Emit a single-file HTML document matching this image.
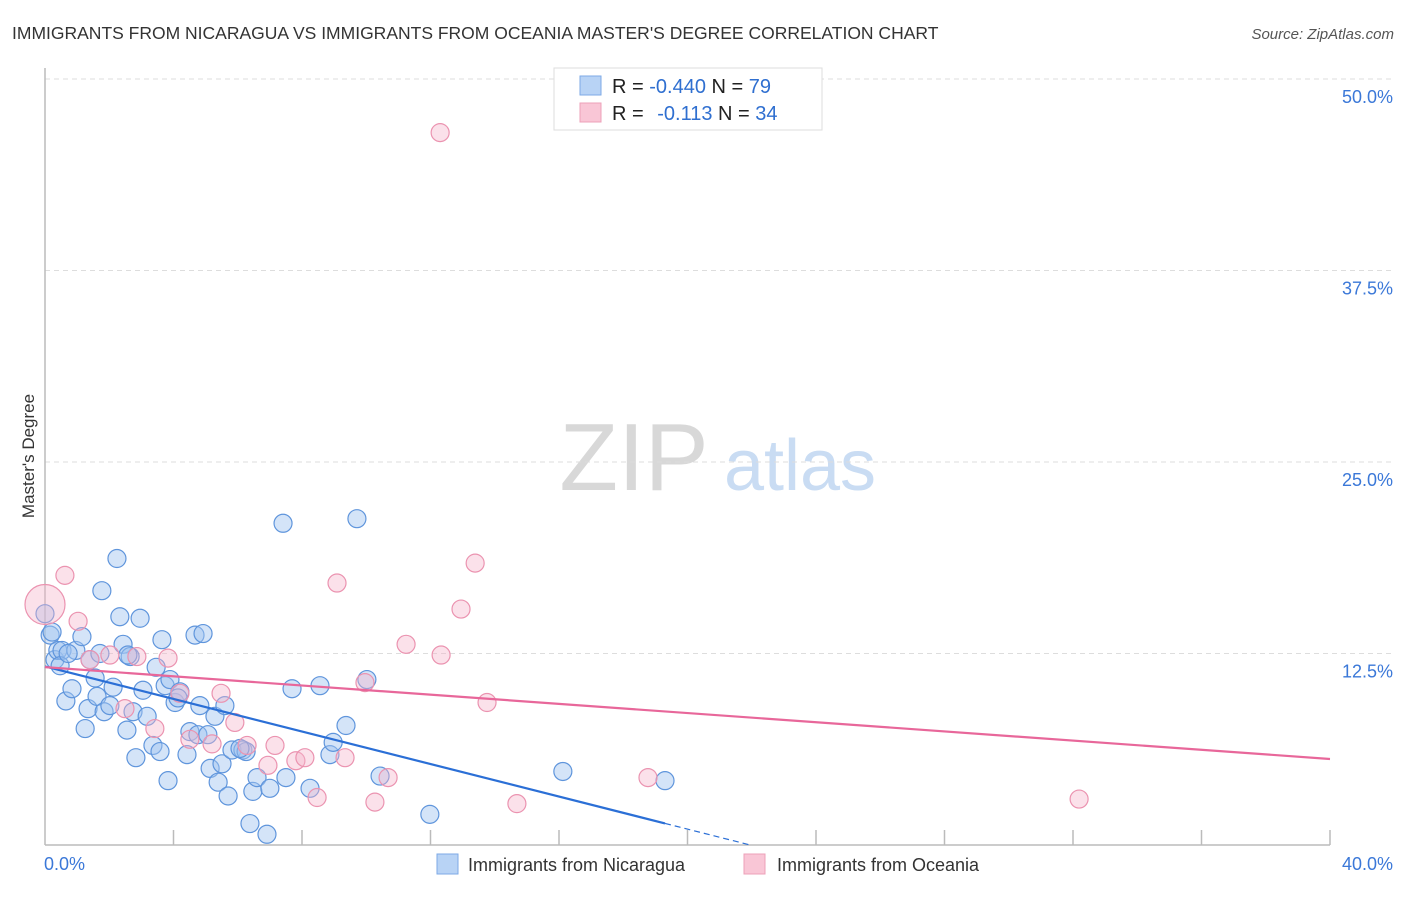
<!DOCTYPE html>
<html><head><meta charset="utf-8"><style>
body{margin:0;background:#fff;font-family:"Liberation Sans",sans-serif}
svg text{font-family:"Liberation Sans",sans-serif}
</style></head><body>
<svg id="c" width="1406" height="892">
<text x="12" y="39" font-size="17.5" fill="#333">IMMIGRANTS FROM NICARAGUA VS IMMIGRANTS FROM OCEANIA MASTER'S DEGREE CORRELATION CHART</text>
<text x="1394" y="39" font-size="15" fill="#555" font-style="italic" text-anchor="end">Source: ZipAtlas.com</text>
<text x="634" y="490" font-size="96" fill="#d8d8d8" font-family="Liberation Serif,serif" text-anchor="middle">ZIP</text>
<text x="800" y="490" font-size="72" fill="#c9dcf3" text-anchor="middle">atlas</text>
<text transform="translate(34,456) rotate(-90)" font-size="17" fill="#333" text-anchor="middle">Master's Degree</text>
<g id="grid"></g><g id="pts"></g><g id="lines"></g>
<g>
<rect x="554" y="68" width="268" height="62" fill="#fff" stroke="#ddd"/>
<rect x="580" y="76" width="21" height="19" fill="#b8d3f5" stroke="#7eaae6"/>
<rect x="580" y="103" width="21" height="19" fill="#f9c6d6" stroke="#eda0b8"/>
<text x="612" y="93" font-size="20" fill="#222">R = <tspan fill="#2f6fd0">-0.440</tspan>   N = <tspan fill="#2f6fd0">79</tspan></text>
<text x="612" y="120" font-size="20" fill="#222">R =   <tspan fill="#2f6fd0" dx="8">-0.113</tspan>   N = <tspan fill="#2f6fd0">34</tspan></text>
</g>
<g>
<rect x="437" y="854" width="21" height="20" fill="#b8d3f5" stroke="#7eaae6"/>
<text x="468" y="871" font-size="18" fill="#333">Immigrants from Nicaragua</text>
<rect x="744" y="854" width="21" height="20" fill="#f9c6d6" stroke="#eda0b8"/>
<text x="777" y="871" font-size="18" fill="#333">Immigrants from Oceania</text>
</g>
</svg>
<script>
const blueX=[0.0,0.16,0.31,0.40,0.53,0.65,0.84,0.96,1.15,1.25,1.34,1.40,1.56,1.62,1.77,1.84,2.02,2.12,2.24,2.33,2.43,2.55,2.65,2.74,2.83,2.96,3.05,3.18,3.36,3.46,3.58,3.64,3.74,3.83,3.89,4.05,4.20,4.42,4.51,4.67,4.76,4.92,5.07,5.14,5.29,5.39,5.51,5.60,5.70,5.82,6.16,6.26,6.38,6.47,6.60,6.91,7.00,7.41,7.50,7.69,8.25,8.56,8.87,8.97,9.37,9.71,10.02,10.43,11.98,16.12,19.30,0.22,0.47,0.72,1.71,2.58,4.14,4.82,6.07];
const blueY=[15.1,13.7,12.1,12.7,12.7,9.4,10.2,12.7,13.6,7.6,8.9,12.1,10.9,9.7,16.6,8.7,9.1,10.3,18.7,14.9,13.1,7.5,12.3,8.7,5.7,14.8,10.1,8.4,6.5,11.6,6.1,13.4,10.4,4.2,10.8,9.3,10.0,5.9,7.4,13.7,7.2,13.8,7.2,5.0,8.4,4.1,5.3,9.1,3.2,6.2,6.2,6.1,1.4,3.5,4.4,0.7,3.7,21.0,4.4,10.2,3.7,10.4,5.9,6.7,7.8,21.3,10.8,4.5,2.0,4.8,4.2,13.9,11.7,12.5,12.5,12.4,9.6,9.1,6.3];
const pinkX=[0,0.62,1.03,1.40,2.02,2.49,2.86,3.42,4.20,4.51,5.20,5.48,5.91,6.29,6.94,7.16,7.81,8.09,8.47,9.09,9.34,9.96,10.27,10.68,11.24,12.33,12.30,12.95,13.39,13.76,14.69,18.77,32.19,3.83];
const pinkY=[15.7,17.6,14.6,12.1,12.4,8.9,12.3,7.6,9.9,6.9,6.6,9.9,8.0,6.5,5.2,6.5,5.5,5.7,3.1,17.1,5.7,10.6,2.8,4.4,13.1,12.4,46.5,15.4,18.4,9.3,2.7,4.4,3.0,12.2];
const pinkBig=[1,0,0,0,0,0,0,0,0,0,0,0,0,0,0,0,0,0,0,0,0,0,0,0,0,0,0,0,0,0,0,0,0,0];
const yTicks=[12.5,25.0,37.5,50.0];
const xTickLabels=["0.0%","40.0%"];
const NS="http://www.w3.org/2000/svg";
const X0=45,X1=1330,Y0=845,Y50=79;
const sx=v=>X0+(v/40)*(X1-X0);
const sy=v=>Y0-(v/50)*(Y0-Y50);
function mk(tag,attrs,parent){const e=document.createElementNS(NS,tag);for(const k in attrs)e.setAttribute(k,attrs[k]);parent.appendChild(e);return e;}
const grid=document.getElementById('grid');
yTicks.forEach(t=>{
  const l=mk('line',{x1:X0,x2:1395,y1:sy(t),y2:sy(t),stroke:'#ddd','stroke-dasharray':'5,4'},grid);
  
  
  const tx=mk('text',{x:1393,y:sy(t)+24,'font-size':18,fill:'#3b78d8','text-anchor':'end'},grid);
  tx.textContent=t.toFixed(1)+'%';
  
  
});
const ax=mk('line',{x1:X0,x2:X0,y1:68,y2:Y0,stroke:'#bbb','stroke-width':1.5},grid);


const bx=mk('line',{x1:X0,x2:X1,y1:Y0,y2:Y0,stroke:'#bbb','stroke-width':1.5},grid);


for(let i=1;i<=10;i++){
  const t=mk('line',{x1:sx(i*4),x2:sx(i*4),y1:Y0-15,y2:Y0,stroke:'#bbb','stroke-width':1.5},grid);
  
  
}
[[0,'start',44],[40,'end',1393]].forEach((d,i)=>{
  const t=mk('text',{x:d[2],y:870,'font-size':18,fill:'#3b78d8','text-anchor':d[1]},grid);
  t.textContent=xTickLabels[i];
  
  
});
const pts=document.getElementById('pts');
blueX.forEach((x,i)=>{
  const c=mk('circle',{cx:sx(x),cy:sy(blueY[i]),r:9,fill:'rgba(160,196,240,0.45)',stroke:'#5f95dc','stroke-width':1.2},pts);
  
  
});
pinkX.forEach((x,i)=>{
  const c=mk('circle',{cx:sx(x),cy:sy(pinkY[i]),r:pinkBig[i]?20:9,fill:'rgba(246,180,202,0.4)',stroke:'#eb93b0','stroke-width':1.2},pts);
  
  
});
function ols(xs,ys){const n=xs.length;let mx=0,my=0;for(let i=0;i<n;i++){mx+=xs[i];my+=ys[i];}mx/=n;my/=n;let sxy=0,sxx=0;for(let i=0;i<n;i++){sxy+=(xs[i]-mx)*(ys[i]-my);sxx+=(xs[i]-mx)**2;}const b=sxy/sxx;return [my-b*mx,b];}
const lines=document.getElementById('lines');
const [ba,bb]=ols(blueX,blueY);
const bmax=Math.max(...blueX);
const bl=mk('line',{x1:sx(0),y1:sy(ba),x2:sx(bmax),y2:sy(ba+bb*bmax),stroke:'#2b6fd6','stroke-width':2.2},lines);


const bz=bb<0?-ba/bb:bmax;
const bd=mk('line',{x1:sx(bmax),y1:sy(ba+bb*bmax),x2:sx(bz),y2:sy(0),stroke:'#2b6fd6','stroke-width':1.2,'stroke-dasharray':'6,4'},lines);


const [pa,pb]=ols(pinkX,pinkY);
const pl=mk('line',{x1:sx(0),y1:sy(pa),x2:sx(40),y2:sy(pa+pb*40),stroke:'#e8679a','stroke-width':2.2},lines);


</script>
</body></html>
